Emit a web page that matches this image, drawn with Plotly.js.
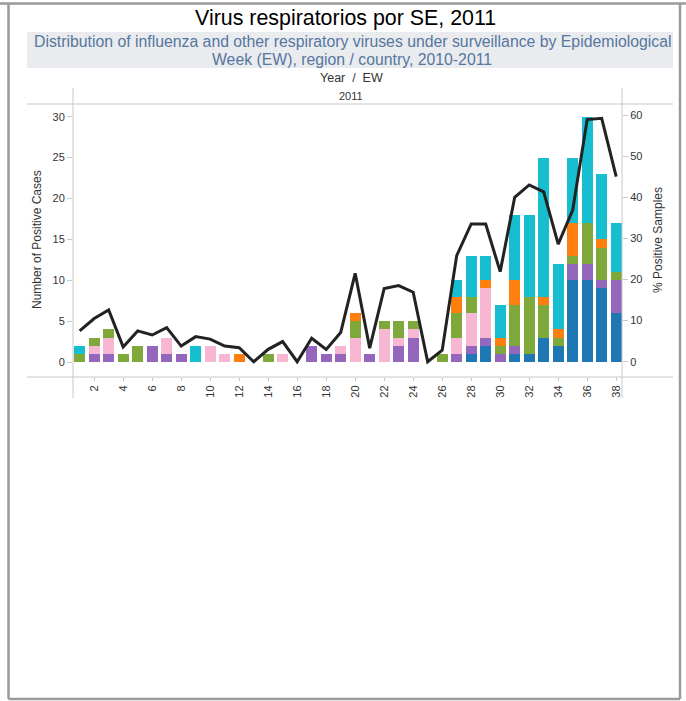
<!DOCTYPE html>
<html>
<head>
<meta charset="utf-8">
<script src="https://cdn.plot.ly/plotly-3.0.1.min.js"></script>
<style>
html,body{margin:0;padding:0;background:#fff;}
#chart{width:686px;height:701px;}
</style>
</head>
<body>
<div id="chart"></div>
<script>
// Epidemiological weeks
const weeks = [1,2,3,4,5,6,7,8,9,10,11,12,13,14,15,16,17,18,19,20,21,22,23,24,25,26,27,28,29,30,31,32,33,34,35,36,37,38];
const tickWeeks = [2,4,6,8,10,12,14,16,18,20,22,24,26,28,30,32,34,36,38];

// Number of positive cases per virus (stack order bottom -> top)
const fluAH3 =      [0,0,0,0,0,0,0,0,0,0,0,0,0,0,0,0,0,0,0,0,0,0,0,0,0,0,0,1,2,0,1,1,3,2,10,10,9,6];
const fluB =        [0,1,1,0,0,2,1,1,0,0,0,0,0,0,0,0,2,1,1,0,1,0,2,3,0,0,1,1,1,1,1,0,0,0,2,2,1,4];
const parainfluenza=[0,1,2,0,0,0,2,0,0,2,1,0,0,0,1,0,0,0,1,3,0,4,1,1,0,0,2,4,6,0,0,0,0,0,0,0,0,0];
const adenovirus =  [1,1,1,1,2,0,0,0,0,0,0,0,0,1,0,0,0,0,0,2,0,1,2,1,0,1,3,2,0,1,5,7,4,1,1,5,4,1];
const fluANotSub =  [0,0,0,0,0,0,0,0,0,0,0,1,0,0,0,0,0,0,0,1,0,0,0,0,0,0,2,0,1,1,3,0,1,1,4,0,1,0];
const rsv =         [1,0,0,0,0,0,0,0,2,0,0,0,0,0,0,0,0,0,0,0,0,0,0,0,0,0,2,5,3,4,8,10,17,8,8,13,8,6];

// % positive samples
const pctPositive = [7.5,10.5,12.6,3.6,7.5,6.5,8.3,3.8,6.1,5.5,3.8,3.4,0,3.0,4.9,0,5.7,3.0,7.1,21.5,3.3,17.8,18.5,16.9,0,2.8,25.8,33.5,33.5,21.9,40.0,43.0,41.3,28.6,36.9,58.9,59.2,45.0];

const seriesNames = ["Influenza A(H3N2)","Influenza B","Parainfluenza","Adenovirus","Influenza A no subtipificado","VSR"];
const seriesValues = [fluAH3, fluB, parainfluenza, adenovirus, fluANotSub, rsv];
const seriesColors = ["#1f77b4","#9467bd","#f7b6d2","#7fa83b","#ff7f0e","#17becf"];

const traces = seriesValues.map((vals,i)=>({
  type:'bar', x:weeks, y:vals, name:seriesNames[i],
  marker:{color:seriesColors[i], line:{width:0}},
  yaxis:'y', hoverinfo:'skip'
}));
traces.push({
  type:'scatter', mode:'lines', x:weeks, y:pctPositive, name:'% Positive Samples',
  yaxis:'y2', line:{color:'#222222', width:3}, hoverinfo:'skip'
});

// pixel -> paper helpers (plot area: x 73..622, y 104..377)
const L=73, R=622, T=104, B=377;
const px = v => (v-L)/(R-L);
const py = v => (B-v)/(B-T);

const gray='#c8c8c8';
const shapes = [
  // outer frame
  {type:'line',xref:'paper',yref:'paper',x0:px(0),x1:px(686),y0:py(3.5),y1:py(3.5),line:{color:'#9a9a9a',width:2.5}},
  {type:'line',xref:'paper',yref:'paper',x0:px(8.5),x1:px(8.5),y0:py(3.5),y1:py(699),line:{color:'#9a9a9a',width:2.5}},
  {type:'line',xref:'paper',yref:'paper',x0:px(680),x1:px(680),y0:py(3.5),y1:py(699),line:{color:'#9a9a9a',width:2.5}},
  {type:'line',xref:'paper',yref:'paper',x0:px(8.5),x1:px(680),y0:py(699),y1:py(699),line:{color:'#9a9a9a',width:2.5}},
  // subtitle band
  {type:'rect',xref:'paper',yref:'paper',x0:px(27),x1:px(673),y0:py(32),y1:py(68),fillcolor:'#e9ebef',line:{width:0},layer:'below'},
  // header / axis lines
  {type:'line',xref:'paper',yref:'paper',x0:px(27),x1:px(673),y0:py(104),y1:py(104),line:{color:gray,width:1}},
  {type:'line',xref:'paper',yref:'paper',x0:px(27),x1:px(673),y0:py(377),y1:py(377),line:{color:gray,width:1}},
  {type:'line',xref:'paper',yref:'paper',x0:px(73),x1:px(73),y0:py(88),y1:py(398),line:{color:gray,width:1}},
  {type:'line',xref:'paper',yref:'paper',x0:px(622),x1:px(622),y0:py(88),y1:py(398),line:{color:gray,width:1}}
];

const font = 'Liberation Sans, Arial, sans-serif';
const annotations = [
  {text:'Virus respiratorios por SE, 2011',xref:'paper',yref:'paper',x:px(345),y:py(18),xanchor:'center',yanchor:'middle',showarrow:false,font:{family:font,size:21.4,color:'#000'}},
  {text:'Distribution of influenza and other respiratory viruses under surveillance by Epidemiological',xref:'paper',yref:'paper',x:px(352),y:py(41.5),xanchor:'center',yanchor:'middle',showarrow:false,font:{family:font,size:15.8,color:'#56779e'}},
  {text:'Week (EW), region / country, 2010-2011',xref:'paper',yref:'paper',x:px(352),y:py(59.5),xanchor:'center',yanchor:'middle',showarrow:false,font:{family:font,size:15.8,color:'#56779e'}},
  {text:'Year  /  EW',xref:'paper',yref:'paper',x:px(351),y:py(78),xanchor:'center',yanchor:'middle',showarrow:false,font:{family:font,size:12.5,color:'#333'}},
  {text:'2011',xref:'paper',yref:'paper',x:px(351),y:py(96),xanchor:'center',yanchor:'middle',showarrow:false,font:{family:font,size:11,color:'#333'}},
  {text:'Number of Positive Cases',xref:'paper',yref:'paper',x:px(37),y:py(240),xanchor:'center',yanchor:'middle',textangle:-90,showarrow:false,font:{family:font,size:12,color:'#333'}},
  {text:'% Positive Samples',xref:'paper',yref:'paper',x:px(658),y:py(240),xanchor:'center',yanchor:'middle',textangle:-90,showarrow:false,font:{family:font,size:12,color:'#333'}}
];

const layout = {
  width:686, height:701,
  margin:{l:L, r:686-R, t:T, b:701-B, pad:0},
  paper_bgcolor:'#fff', plot_bgcolor:'#fff',
  barmode:'stack', bargap:0.26,
  showlegend:false,
  font:{family:font, size:11, color:'#333'},
  xaxis:{range:[0.54,38.4], tickmode:'array', tickvals:tickWeeks, ticktext:tickWeeks.map(String),
         tickangle:-90, ticks:'outside', ticklen:3, tickcolor:gray, showgrid:false, zeroline:false, showline:false,
         tickfont:{family:font,size:11,color:'#333'}, fixedrange:true},
  yaxis:{range:[-1.83,31.55], tickvals:[0,5,10,15,20,25,30], ticks:'outside', ticklen:5, tickcolor:gray,
         showgrid:false, zeroline:false, showline:false, tickfont:{family:font,size:11,color:'#333'}, fixedrange:true},
  yaxis2:{range:[-3.72,62.68], overlaying:'y', side:'right', tickvals:[0,10,20,30,40,50,60], ticks:'outside', ticklen:5, tickcolor:gray,
          showgrid:false, zeroline:false, showline:false, tickfont:{family:font,size:11,color:'#333'}, fixedrange:true},
  shapes:shapes, annotations:annotations
};

Plotly.newPlot('chart', traces, layout, {staticPlot:true, displayModeBar:false});
</script>
</body>
</html>
